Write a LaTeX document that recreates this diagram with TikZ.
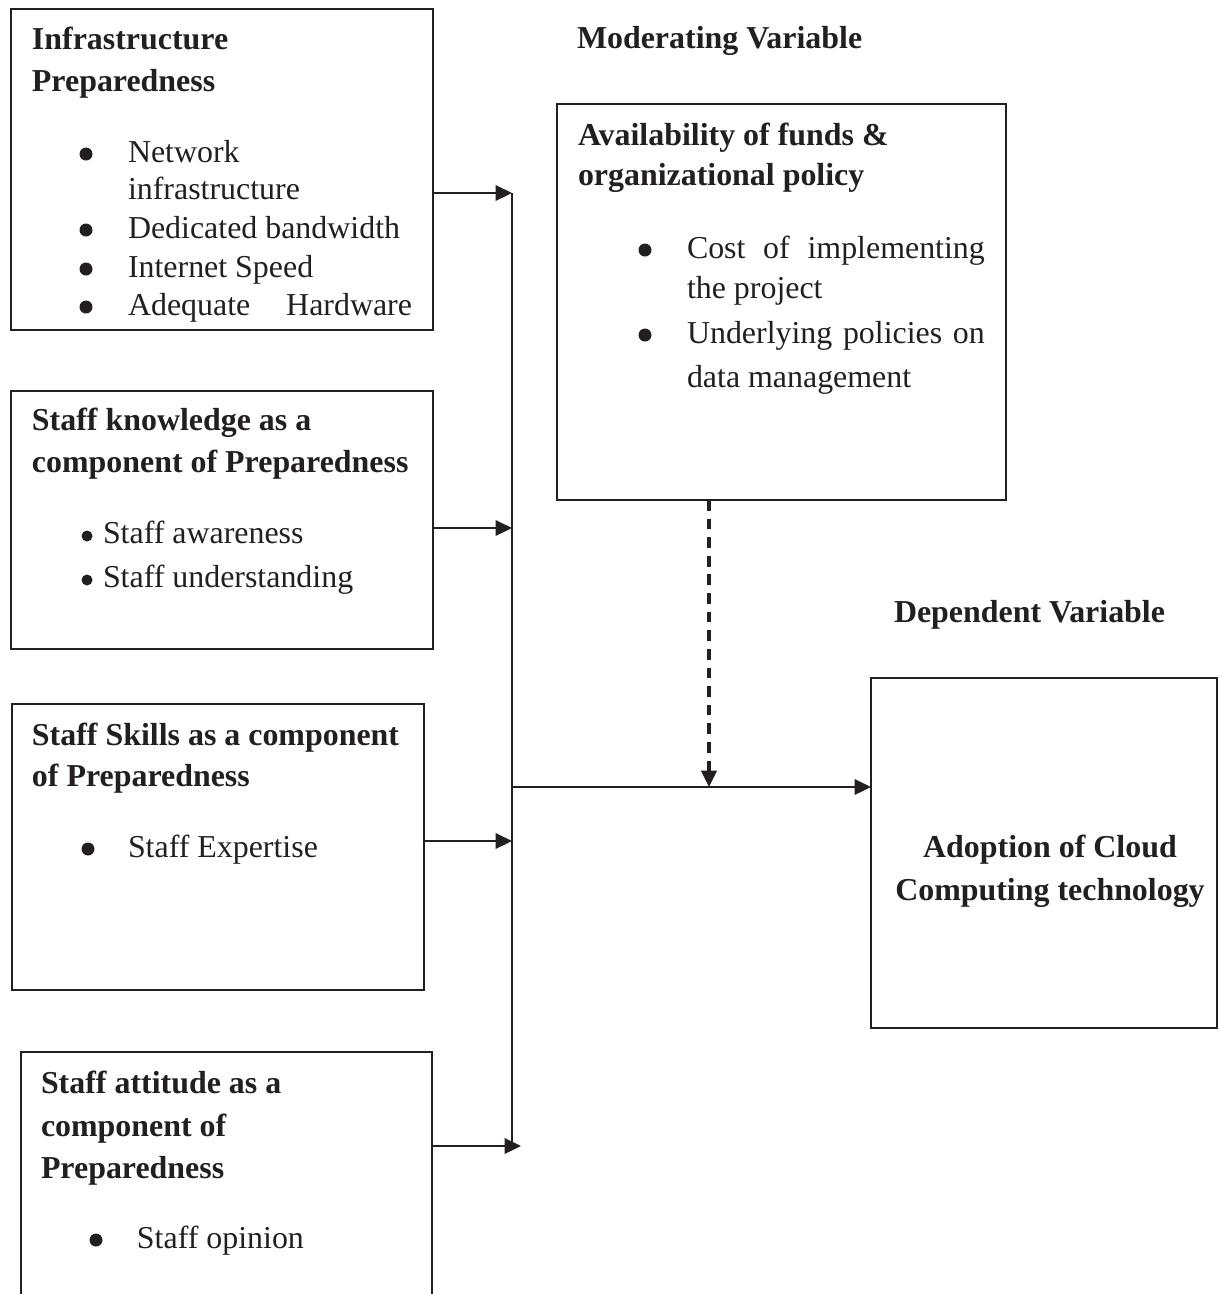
\documentclass[tikz,border=0pt]{standalone}
\usepackage{fontspec}
\setmainfont{Liberation Serif}
\usetikzlibrary{arrows.meta}
\definecolor{ink}{HTML}{231F20}
\newcommand{\mkbox}[5]{\node[box, minimum width={(#4-#2)*0.376pt}, minimum height={(#5-#3)*0.376pt}] (#1) at ({(#2+#4)/2},{(#3+#5)/2}) {};}
\begin{document}
\begin{tikzpicture}[x=0.376pt,y=-0.376pt,
  box/.style={draw=ink, line width=0.85pt, inner sep=0pt, outer sep=0pt},
  txt/.style={anchor=base west, inner sep=0pt, outer sep=0pt, text=ink, font=\fontsize{12pt}{14pt}\selectfont},
  head/.style={txt, font=\fontsize{12pt}{14pt}\selectfont\bfseries},
  ctr/.style={anchor=base, inner sep=0pt, outer sep=0pt, text=ink, font=\fontsize{12pt}{14pt}\selectfont\bfseries},
  arr/.style={draw=ink, line width=0.95pt, -{Triangle[length=6.2pt,width=5.8pt]}},
  ln/.style={draw=ink, line width=0.95pt},
  dsh/.style={arr, line width=1.15pt, dash pattern=on 4pt off 3pt},
  bul/.style={fill=ink}]
\useasboundingbox (0,0) rectangle (1219,1294);
\fill[white] (0,0) rectangle (1219,1294);

% boxes
\mkbox{b1}{11}{9}{433}{330}
\mkbox{b2}{11}{391}{433}{649}
\mkbox{b3}{12}{704}{424}{990}
\mkbox{b4}{21}{1052}{432}{1330}
\mkbox{b5}{557}{104}{1006}{500}
\mkbox{b6}{871}{678}{1217}{1028}

% box 1
\node[head] (h1a) at (32,49) {Infrastructure};
\node[head] (h1b) at (32,91) {Preparedness};
\fill[bul] (86,154) circle[radius=6.5];
\node[txt] (t1a) at (128,162) {Network};
\node[txt] (t1b) at (128,199) {infrastructure};
\fill[bul] (86,230) circle[radius=6.5];
\node[txt] (t1c) at (128,238) {Dedicated bandwidth};
\fill[bul] (86,269) circle[radius=6.5];
\node[txt] (t1d) at (128,277) {Internet Speed};
\fill[bul] (86,307) circle[radius=6.5];
\node[txt] (t1e) at (128,315) {\hbox to 106.8pt{Adequate\hfil Hardware}};

% box 2
\node[head] (h2a) at (32,430) {Staff knowledge as a};
\node[head] (h2b) at (32,472) {component of Preparedness};
\fill[bul] (87,536) circle[radius=5.5];
\node[txt] (t2a) at (103,543) {Staff awareness};
\fill[bul] (87,580) circle[radius=5.5];
\node[txt] (t2b) at (103,587) {Staff understanding};

% box 3
\node[head] (h3a) at (32,745) {Staff Skills as a component};
\node[head] (h3b) at (32,786) {of Preparedness};
\fill[bul] (88,849) circle[radius=6.5];
\node[txt] (t3a) at (128,857) {Staff Expertise};

% box 4
\node[head] (h4a) at (41,1093) {Staff attitude as a};
\node[head] (h4b) at (41,1136) {component of};
\node[head] (h4c) at (41,1178) {Preparedness};
\fill[bul] (96,1240) circle[radius=6.5];
\node[txt] (t4a) at (137,1248) {Staff opinion};

% box 5
\node[head] (lmod) at (577,48) {Moderating Variable};
\node[head] (h5a) at (578,145) {Availability of funds \&};
\node[head] (h5b) at (578,185) {organizational policy};
\fill[bul] (645,250) circle[radius=6.5];
\node[txt] (t5a) at (687,258) {\hbox to 112pt{Cost\hfil of\hfil implementing}};
\node[txt] (t5b) at (687,298) {the project};
\fill[bul] (645,335) circle[radius=6.5];
\node[txt] (t5c) at (687,343) {\hbox to 112pt{Underlying\hfil policies\hfil on}};
\node[txt] (t5d) at (687,387) {data management};

% box 6
\node[head] (ldep) at (894,622) {Dependent Variable};
\node[ctr] (t6a) at (1050,857) {Adoption of Cloud};
\node[ctr] (t6b) at (1050,900) {Computing technology};

% junctions
\coordinate (j1) at (512,193);
\coordinate (j2) at (512,528);
\coordinate (j3) at (512,841);
\coordinate (j4) at (512,1146);
\coordinate (t4) at (521,1146);
\coordinate (jm) at (512,787);
\coordinate (dx) at (709,787);

% connectors
\draw[arr] (b1.east |- j1) -- (j1);
\draw[arr] (b2.east |- j2) -- (j2);
\draw[arr] (b3.east |- j3) -- (j3);
\draw[arr] (b4.east |- t4) -- (t4);
\draw[ln] (j1) -- (j4);
\draw[arr] (jm) -- (b6.west |- jm);
\draw[dsh] (b5.south -| dx) -- (dx);
\end{tikzpicture}
\end{document}
